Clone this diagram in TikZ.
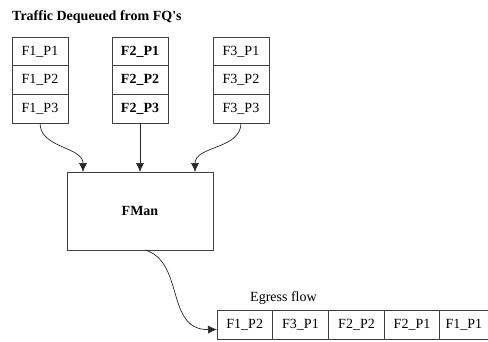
\documentclass[tikz,border=0pt]{standalone}
\usepackage{fontspec}
\setmainfont{Liberation Serif}
\usetikzlibrary{arrows.meta,positioning}

\begin{document}
\begin{tikzpicture}[
    x=1pt, y=-1pt,
    node distance=0pt,
    cell/.style={rectangle, draw=black!75, line width=0.7pt, outer sep=0pt, minimum width=56pt, minimum height=28.67pt, inner sep=0pt, font=\fontsize{14}{16}\selectfont},
    qcell/.style={cell, minimum width=56pt, minimum height=29pt},
    lbl/.style={inner sep=0pt, font=\fontsize{14}{16}\selectfont},
    arr/.style={-{Latex[length=9pt,width=8pt]}, draw=black!85, line width=0.7pt}
]
\useasboundingbox (0,0) rectangle (488,341);
\clip (0,0) rectangle (488,341);

\node[lbl, anchor=base west, font=\fontsize{14}{16}\selectfont\bfseries] (title) at (12,20) {Traffic Dequeued from FQ\textquotesingle s};

% flow queues
\node[cell, anchor=north west] (f1p1) at (12,37) {F1\_P1};
\node[cell, below=of f1p1] (f1p2) {F1\_P2};
\node[cell, below=of f1p2] (f1p3) {F1\_P3};

\node[cell, anchor=north west, font=\fontsize{14}{16}\selectfont\bfseries] (f2p1) at (112,37) {F2\_P1};
\node[cell, below=of f2p1, font=\fontsize{14}{16}\selectfont\bfseries] (f2p2) {F2\_P2};
\node[cell, below=of f2p2, font=\fontsize{14}{16}\selectfont\bfseries] (f2p3) {F2\_P3};

\node[cell, anchor=north west] (f3p1) at (213,37) {F3\_P1};
\node[cell, below=of f3p1] (f3p2) {F3\_P2};
\node[cell, below=of f3p2] (f3p3) {F3\_P3};

% frame manager
\node[cell, minimum width=146pt, minimum height=78pt, font=\fontsize{14}{16}\selectfont\bfseries] (fman) at (140,211) {FMan};

% egress queue
\node[lbl, anchor=base west] (egress) at (250,301) {Egress flow};
\node[qcell, anchor=north west, minimum width=55.5pt] (eg1) at (217,310) {F1\_P2};
\node[qcell, right=of eg1] (eg2) {F3\_P1};
\node[qcell, right=of eg2] (eg3) {F2\_P2};
\node[qcell, right=of eg3, minimum width=55pt] (eg4) {F2\_P1};
\node[qcell, right=of eg4, inner xsep=6pt, align=left, text width=68pt] (eg5) {F1\_P1};

\draw[arr] (f1p3.south) to[out=-90, in=90] ([xshift=16pt]fman.north west);
\draw[arr] (f2p3.south) -- (fman.north);
\draw[arr] (f3p3.south) to[out=-90, in=90] ([xshift=-18pt]fman.north east);
\draw[arr] ([xshift=5pt]fman.south) .. controls (185,262) and (165,330) .. ([yshift=-5pt]eg1.west);
\end{tikzpicture}
\end{document}
